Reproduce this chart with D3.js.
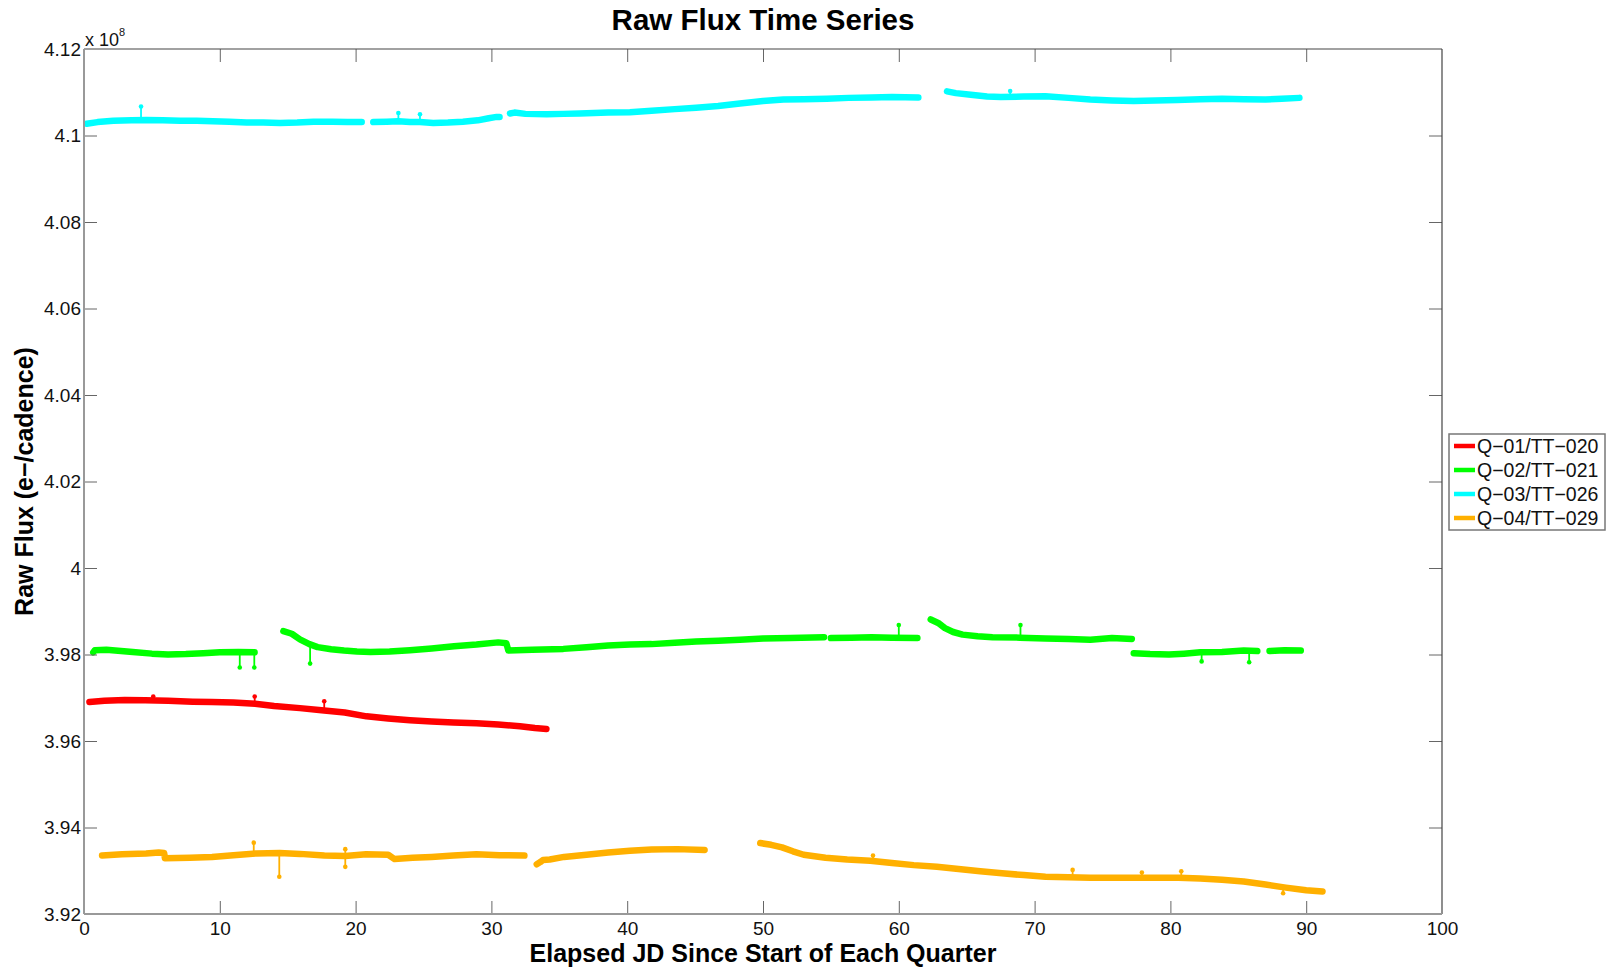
<!DOCTYPE html>
<html>
<head>
<meta charset="utf-8">
<script src="https://cdn.jsdelivr.net/npm/d3@7"></script>
<style>
  html, body { margin: 0; padding: 0; background: #ffffff; }
  svg { display: block; font-family: "Liberation Sans", Arial, Helvetica, sans-serif; }
</style>
</head>
<body>
<svg id="chart" width="1610" height="970"></svg>
<script>
// ---------------- DATA (flux in units of 1e8 e-/cadence) ----------------
const seriesNames = ["Q\u221201/TT\u2212020", "Q\u221202/TT\u2212021", "Q\u221203/TT\u2212026", "Q\u221204/TT\u2212029"];
const seriesColors = ["#ff0000", "#00ff00", "#00ffff", "#ffb000"];

const xTicks = [0, 10, 20, 30, 40, 50, 60, 70, 80, 90, 100];
const yTicks = [3.92, 3.94, 3.96, 3.98, 4.00, 4.02, 4.04, 4.06, 4.08, 4.10, 4.12];
const yTickLabels = ["3.92", "3.94", "3.96", "3.98", "4", "4.02", "4.04", "4.06", "4.08", "4.1", "4.12"];

// Q-01 / TT-020 (red)
const q1Segments = [
  [[0.4,3.9690],[1.5,3.9693],[3.0,3.9695],[4.5,3.9694],[6.2,3.9693],[8.0,3.9691],[9.4,3.9690],
   [11.0,3.9689],[12.6,3.9686],[14.0,3.9681],[15.9,3.9676],[17.5,3.9671],[19.2,3.9666],[20.8,3.9657],
   [22.4,3.9652],[24.0,3.9648],[25.6,3.9645],[27.2,3.9643],[28.9,3.9641],[30.5,3.9638],[32.1,3.9634],
   [33.2,3.9630],[34.05,3.9628]]
];
const q1Spikes = [[5.1,3.9694,3.9703],[12.57,3.9686,3.9703],[17.69,3.9671,3.9692]];

// Q-02 / TT-021 (green)
const q2Segments = [
  [[0.68,3.9805],[0.8,3.9810],[1.65,3.9811],[3.59,3.9806],[5.0,3.9802],[6.19,3.9800],[7.5,3.9801],
   [8.78,3.9803],[10.0,3.9805],[11.37,3.9806],[12.56,3.9805]],
  [[14.68,3.9854],[15.3,3.9848],[15.9,3.9835],[16.6,3.9824],[17.2,3.9817],[18.2,3.9812],[19.15,3.9809],
   [20.1,3.9807],[21.09,3.9806],[22.5,3.9807],[24.0,3.9810],[25.6,3.9814],[27.25,3.9819],[28.9,3.9823],
   [30.5,3.9828],[31.1,3.9826],[31.25,3.9809],[33.0,3.9811],[35.3,3.9813],[37.0,3.9817],[38.6,3.9821],
   [40.2,3.9823],[41.8,3.9824],[43.5,3.9827],[45.07,3.9830],[46.7,3.9832],[48.3,3.9834],[50.0,3.9837],
   [52.0,3.9838],[54.5,3.9840]],
  [[55.0,3.9838],[56.5,3.9839],[58.0,3.9840],[59.5,3.9839],[61.37,3.9838]],
  [[62.35,3.9881],[62.9,3.9873],[63.4,3.9861],[64.0,3.9852],[64.7,3.9846],[65.8,3.9842],[66.9,3.9840],
   [68.9,3.9839],[70.8,3.9837],[72.5,3.9836],[74.1,3.9834],[75.7,3.9838],[77.16,3.9836]],
  [[77.3,3.9803],[78.5,3.9801],[79.9,3.9800],[81.0,3.9802],[82.2,3.9805],[83.8,3.9806],[85.4,3.9809],
   [86.4,3.9808]],
  [[87.3,3.9808],[88.4,3.9810],[89.6,3.9809]]
];
const q2Spikes = [[11.47,3.9805,3.9770],[12.54,3.9805,3.9770],[16.65,3.9823,3.9779],
  [60.0,3.9840,3.9868],[68.96,3.9840,3.9868],[82.3,3.9805,3.9784],[85.8,3.9808,3.9782]];

// Q-03 / TT-026 (cyan)
const q3Segments = [
  [[0.2,4.1027],[1.0,4.1031],[2.16,4.1034],[3.5,4.1035],[4.6,4.1036],[5.8,4.1035],[7.07,4.1034],
   [8.3,4.1034],[9.5,4.1033],[10.7,4.1032],[11.98,4.1030],[13.2,4.1030],[14.43,4.1029],[15.7,4.1030],
   [16.9,4.1032],[18.3,4.1032],[19.4,4.1031],[20.45,4.1031]],
  [[21.3,4.1031],[22.3,4.1032],[23.15,4.1033],[24.0,4.1031],[24.74,4.1031],[25.72,4.1029],[26.8,4.1030],
   [27.9,4.1032],[29.0,4.1035],[29.8,4.1040],[30.39,4.1043],[30.6,4.1043]],
  [[31.37,4.1051],[31.7,4.1053],[32.5,4.1050],[34.07,4.1049],[35.3,4.1050],[36.5,4.1051],[38.6,4.1053],
   [40.2,4.1054],[41.8,4.1057],[43.5,4.1061],[45.07,4.1064],[46.7,4.1068],[48.3,4.1074],[50.0,4.1080],
   [51.5,4.1083],[53.0,4.1084],[54.7,4.1085],[56.3,4.1087],[58.0,4.1088],[59.5,4.1089],[61.44,4.1088]],
  [[63.55,4.1102],[64.2,4.1098],[65.3,4.1094],[66.5,4.1090],[67.5,4.1089],[69.2,4.1090],[70.8,4.1091],
   [72.5,4.1087],[74.1,4.1083],[75.7,4.1081],[77.3,4.1080],[78.9,4.1081],[80.5,4.1082],[82.2,4.1084],
   [83.8,4.1085],[85.4,4.1084],[87.0,4.1083],[88.2,4.1085],[89.5,4.1087]]
];
const q3Spikes = [[4.2,4.1035,4.1067],[23.15,4.1033,4.1052],[24.74,4.1031,4.1049],[68.2,4.1090,4.1103]];

// Q-04 / TT-029 (orange)
const q4Segments = [
  [[1.33,3.9335],[2.8,3.9338],[4.57,3.9340],[5.5,3.9342],[5.9,3.9341],[5.96,3.9329],[7.8,3.9330],
   [9.43,3.9332],[11.0,3.9336],[12.67,3.9340],[14.4,3.9341],[15.9,3.9339],[17.7,3.9335],[19.24,3.9334],
   [20.77,3.9338],[22.4,3.9337],[22.87,3.9327],[24.2,3.9330],[25.6,3.9332],[27.2,3.9335],[28.9,3.9338],
   [30.6,3.9336],[32.43,3.9335]],
  [[33.34,3.9315],[33.6,3.9320],[33.8,3.9325],[34.3,3.9326],[35.35,3.9332],[37.0,3.9337],[38.6,3.9342],
   [40.2,3.9346],[41.8,3.9349],[43.7,3.9350],[45.7,3.9348]],
  [[49.8,3.9364],[50.6,3.9360],[51.4,3.9354],[52.2,3.9345],[53.0,3.9337],[54.6,3.9330],[56.2,3.9326],
   [57.9,3.9323],[59.5,3.9318],[61.1,3.9313],[62.8,3.9309],[64.4,3.9304],[66.0,3.9299],[67.6,3.9294],
   [69.2,3.9290],[70.8,3.9286],[72.5,3.9285],[74.1,3.9284],[75.7,3.9284],[77.3,3.9284],[79.0,3.9284],
   [80.6,3.9284],[82.2,3.9282],[83.8,3.9279],[85.4,3.9275],[87.0,3.9268],[88.5,3.9261],[90.0,3.9255],
   [91.2,3.9252]]
];
const q4Spikes = [[12.5,3.9340,3.9365],[14.38,3.9341,3.9286],[19.24,3.9334,3.9350],[19.24,3.9334,3.9309],
  [58.1,3.9324,3.9335],[72.8,3.9285,3.9302],[77.9,3.9284,3.9296],[80.8,3.9284,3.9299],[88.3,3.9261,3.9248]];

const allSegments = [q1Segments, q2Segments, q3Segments, q4Segments];
const allSpikes = [q1Spikes, q2Spikes, q3Spikes, q4Spikes];

// ---------------- LAYOUT ----------------
const plot = { left: 84, right: 1442, top: 49, bottom: 914 };
const svg = d3.select("#chart");
svg.append("rect").attr("width", 1610).attr("height", 970).attr("fill", "#fff");

const x = d3.scaleLinear().domain([0, 100]).range([plot.left, plot.right]);
const y = d3.scaleLinear().domain([3.92, 4.12]).range([plot.bottom, plot.top]);

// data
const line = d3.line().x(d => x(d[0])).y(d => y(d[1]));
const dataG = svg.append("g");
allSegments.forEach((segs, i) => {
  const g = dataG.append("g");
  allSpikes[i].forEach(s => {
    g.append("line").attr("x1", x(s[0])).attr("x2", x(s[0]))
      .attr("y1", y(s[1])).attr("y2", y(s[2]))
      .attr("stroke", seriesColors[i]).attr("stroke-width", 1.8);
    g.append("circle").attr("cx", x(s[0])).attr("cy", y(s[2])).attr("r", 2.3)
      .attr("fill", seriesColors[i]);
  });
  segs.forEach(seg => {
    g.append("path").datum(seg).attr("d", line)
      .attr("fill", "none").attr("stroke", seriesColors[i])
      .attr("stroke-width", 6.5).attr("stroke-linejoin", "round").attr("stroke-linecap", "round");
  });
});

// axes
const tickFont = 19;
const xAxisB = svg.append("g").attr("transform", `translate(0,${plot.bottom})`)
  .call(d3.axisBottom(x).tickValues(xTicks).tickSizeInner(-13).tickSizeOuter(0).tickPadding(8).tickFormat(d3.format("d")));
const xAxisT = svg.append("g").attr("transform", `translate(0,${plot.top})`)
  .call(d3.axisTop(x).tickValues(xTicks).tickSizeInner(-13).tickSizeOuter(0).tickFormat(""));
const yAxisL = svg.append("g").attr("transform", `translate(${plot.left},0)`)
  .call(d3.axisLeft(y).tickValues(yTicks).tickSizeInner(-13).tickSizeOuter(0).tickPadding(3)
    .tickFormat((d, i) => yTickLabels[i]));
const yAxisR = svg.append("g").attr("transform", `translate(${plot.right},0)`)
  .call(d3.axisRight(y).tickValues(yTicks).tickSizeInner(-13).tickSizeOuter(0).tickFormat(""));

[xAxisB, xAxisT, yAxisL, yAxisR].forEach(g => {
  g.select(".domain").remove();
  g.selectAll(".tick line").attr("stroke", "#666").attr("stroke-width", 1);
  g.selectAll(".tick text").attr("fill", "#111").attr("font-size", tickFont)
    .attr("font-family", "'Liberation Sans', Arial, sans-serif");
});
// hide end ticks that coincide with the frame
xAxisB.selectAll(".tick").filter(d => d === 0 || d === 100).select("line").remove();
xAxisT.selectAll(".tick").filter(d => d === 0 || d === 100).select("line").remove();
yAxisL.selectAll(".tick").filter(d => d === 3.92 || d === 4.12).select("line").remove();
yAxisR.selectAll(".tick").filter(d => d === 3.92 || d === 4.12).select("line").remove();

// frame
svg.append("line").attr("x1", plot.left).attr("x2", plot.right).attr("y1", plot.top).attr("y2", plot.top)
  .attr("stroke", "#444").attr("stroke-width", 1.2);
svg.append("line").attr("x1", plot.right).attr("x2", plot.right).attr("y1", plot.top).attr("y2", plot.bottom)
  .attr("stroke", "#444").attr("stroke-width", 1.2);
svg.append("line").attr("x1", plot.left).attr("x2", plot.right).attr("y1", plot.bottom).attr("y2", plot.bottom)
  .attr("stroke", "#999").attr("stroke-width", 2);
svg.append("line").attr("x1", plot.left).attr("x2", plot.left).attr("y1", plot.top).attr("y2", plot.bottom)
  .attr("stroke", "#999").attr("stroke-width", 2);

// exponent label
const expT = svg.append("text").attr("x", 85).attr("y", 46).attr("font-size", 18).attr("fill", "#111");
expT.append("tspan").text("x 10");
expT.append("tspan").attr("font-size", 11).attr("dy", -10).text("8");

// title and labels
svg.append("text").attr("x", (plot.left + plot.right) / 2).attr("y", 30)
  .attr("text-anchor", "middle").attr("font-weight", "bold").attr("font-size", 29.5).attr("fill", "#000")
  .text("Raw Flux Time Series");
svg.append("text").attr("x", (plot.left + plot.right) / 2).attr("y", 962)
  .attr("text-anchor", "middle").attr("font-weight", "bold").attr("font-size", 25).attr("fill", "#000")
  .text("Elapsed JD Since Start of Each Quarter");
svg.append("text").attr("transform", `translate(33,${(plot.top + plot.bottom) / 2}) rotate(-90)`)
  .attr("text-anchor", "middle").attr("font-weight", "bold").attr("font-size", 25).attr("fill", "#000")
  .text("Raw Flux (e\u2212/cadence)");

// legend
const leg = svg.append("g");
leg.append("rect").attr("x", 1449).attr("y", 434).attr("width", 156).attr("height", 96)
  .attr("fill", "#fff").attr("stroke", "#777").attr("stroke-width", 1.5);
seriesNames.forEach((name, i) => {
  const cy = 446 + i * 24;
  leg.append("line").attr("x1", 1454).attr("x2", 1475).attr("y1", cy).attr("y2", cy)
    .attr("stroke", seriesColors[i]).attr("stroke-width", 4.5);
  leg.append("text").attr("x", 1477).attr("y", cy).attr("dy", "0.36em")
    .attr("font-size", 19.5).attr("fill", "#111").text(name);
});
</script>
</body>
</html>
